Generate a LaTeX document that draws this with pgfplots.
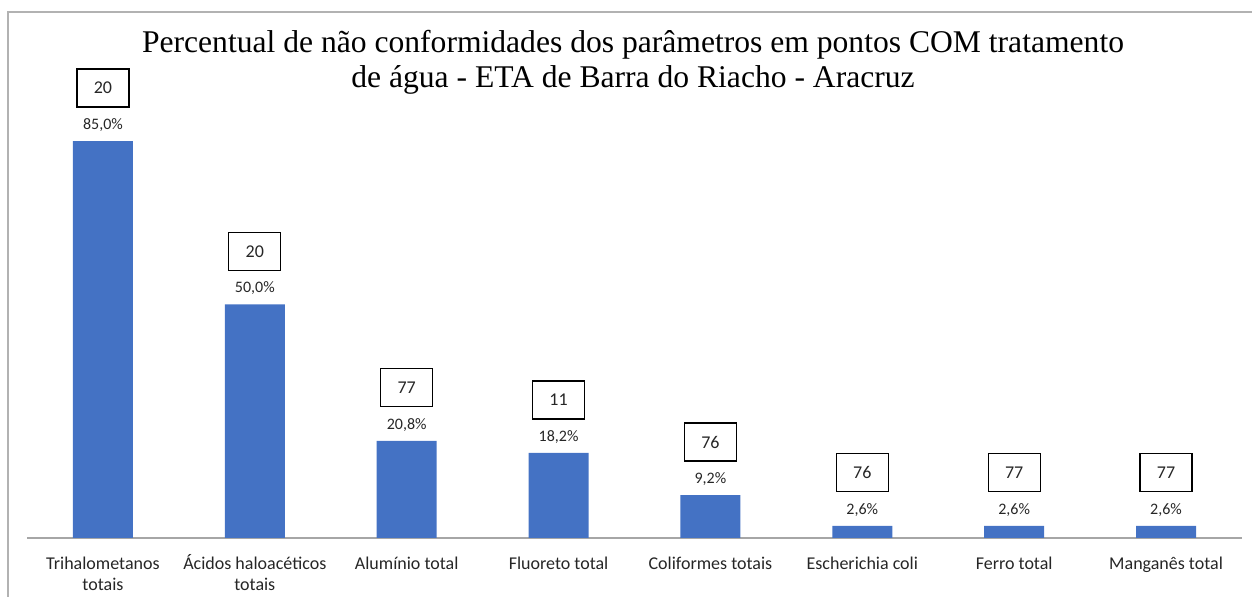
\documentclass[border=0pt]{standalone}
\usepackage{pgfplots}
\pgfplotsset{compat=1.18}
\usepackage{pgfplotstable}
\usepackage{fontspec}
\setmainfont{Liberation Serif}
\newfontfamily\calib{Carlito}
\definecolor{barblue}{HTML}{4472C4}
\pgfplotstableread{
x y n
0 85.0 20
1 50.0 20
2 20.8 77
3 18.2 11
4 9.2 76
5 2.6 76
6 2.6 77
7 2.6 77
}\datatable
\newcommand{\st}{\vphantom{Á}}
\begin{document}
\begin{tikzpicture}
\useasboundingbox (0,0) rectangle (626pt,298.5pt);
\draw[gray!60, line width=1pt] (4pt,0) -- (4pt,292.5pt) -- (626pt,292.5pt);
\node[align=center, font=\fontsize{15.8}{17.5}\selectfont] at (316.5pt,267.25pt)
  {Percentual de não conformidades dos parâmetros em pontos COM tratamento\\de água - ETA de Barra do Riacho - Aracruz};
\begin{axis}[
  at={(13.5pt,29.5pt)}, anchor=south west,
  scale only axis, width=607.5pt, height=233.5pt,
  xmin=-0.5, xmax=7.5, ymin=0, ymax=100,
  hide y axis,
  axis x line*=bottom,
  x axis line style={-, draw=gray!70, line width=0.6pt},
  xtick=data, major tick length=0pt,
  xticklabels={{\st Trihalometanos\\totais},{\st Ácidos haloacéticos\\totais},{\st Alumínio total},{\st Fluoreto total},{\st Coliformes totais},{\st Escherichia coli},{\st Ferro total},{\st Manganês total}},
  xticklabel style={align=center, font=\calib\fontsize{9}{10.5}\selectfont, text=black!85, yshift=-4.5pt},
  clip=false,
]
\addplot[ybar, bar width=30pt, fill=barblue, draw=none,
  nodes near coords={\pgfmathprintnumber[fixed,fixed zerofill,precision=1,use comma,assume math mode=true]{\pgfplotspointmeta}\%},
  nodes near coords style={font=\calib\fontsize{8}{9}\selectfont, text=black!85, anchor=center, yshift=8pt}]
  table[x=x,y=y] {\datatable};
\addplot[draw=none, mark=none, point meta=explicit symbolic,
  nodes near coords,
  nodes near coords style={font=\calib\fontsize{9}{10}\selectfont, text=black!85, anchor=center, yshift=26.5pt, draw=black, line width=0.6pt, minimum width=26pt, minimum height=19pt, inner sep=0pt}]
  table[x=x,y=y,meta=n] {\datatable};
\end{axis}
\end{tikzpicture}
\end{document}
